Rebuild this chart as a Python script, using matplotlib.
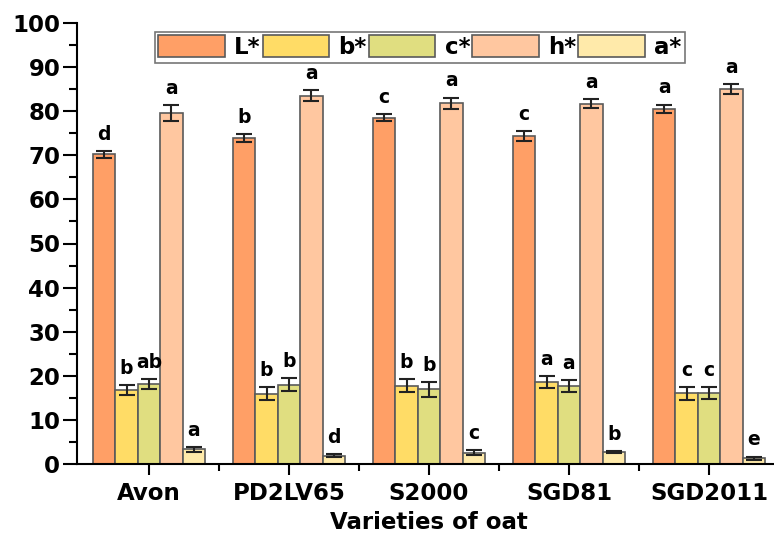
import matplotlib.pyplot as plt
import numpy as np
from matplotlib.ticker import MultipleLocator

plt.rcParams['font.family'] = ['DejaVu Sans']
plt.rcParams['font.weight'] = 'bold'

variedades = ["Avon", "PD2LV65", "S2000", "SGD81", "SGD2011"]
series = ["L*", "b*", "c*", "h*", "a*"]

L_val = [70.2, 73.9, 78.5, 74.3, 80.5]
L_err = [0.7, 0.9, 0.8, 1.1, 1.0]
b_val = [16.8, 15.9, 17.8, 18.6, 16.0]
b_err = [1.2, 1.5, 1.5, 1.3, 1.5]
c_val = [18.2, 18.0, 16.9, 17.7, 16.1]
c_err = [1.1, 1.5, 1.6, 1.3, 1.3]
h_val = [79.6, 83.5, 81.8, 81.7, 85.1]
h_err = [1.8, 1.3, 1.3, 1.0, 1.1]
a_val = [3.3, 1.9, 2.6, 2.7, 1.3]
a_err = [0.5, 0.3, 0.6, 0.2, 0.4]

L_let = ["d", "b", "c", "c", "a"]
b_let = ["b", "b", "b", "a", "c"]
c_let = ["ab", "b", "b", "a", "c"]
h_let = ["a", "a", "a", "a", "a"]
a_let = ["a", "d", "c", "b", "e"]

valores = [L_val, b_val, c_val, h_val, a_val]
erros = [L_err, b_err, c_err, h_err, a_err]
letras = [L_let, b_let, c_let, h_let, a_let]
cores = ["#FF9F66", "#FFDC66", "#E0DE80", "#FFC7A0", "#FFEAAA"]

fig = plt.figure(figsize=(7.74, 5.37), dpi=100)
ax = fig.add_axes([77 / 774, 73 / 537, 704 / 774, 441 / 537])

x = np.arange(len(variedades))
largura = 0.16
for i, nome in enumerate(series):
    pos = x + (i - 2) * largura
    ax.bar(pos, valores[i], largura, color=cores[i], edgecolor="#5a5a5a",
           linewidth=1.2, label=nome, zorder=2)
    ax.errorbar(pos, valores[i], yerr=erros[i], fmt="none", ecolor="#222222",
                elinewidth=1.5, capsize=6, capthick=1.5, zorder=3)
    for p, v, e, t in zip(pos, valores[i], erros[i], letras[i]):
        ax.annotate(t, (p, v + e), xytext=(0, 8), textcoords="offset points",
                    ha="center", va="baseline", fontsize=13.5, fontweight="bold")

ax.set_xlim(-0.514, 4.514)
ax.set_ylim(0, 100)
ax.yaxis.set_major_locator(MultipleLocator(10))
ax.yaxis.set_minor_locator(MultipleLocator(5))
ax.set_xticks(x)
ax.set_xticklabels(variedades)
ax.set_xticks(x[:-1] + 0.5, minor=True)

ax.tick_params(axis="y", which="major", length=10, width=1.5, labelsize=16.5, pad=2)
ax.tick_params(axis="y", which="minor", length=6, width=1.5)
ax.tick_params(axis="x", which="major", length=8, width=1.5, labelsize=16.5, pad=5)
ax.tick_params(axis="x", which="minor", length=5, width=1.5)
for lab in ax.get_xticklabels() + ax.get_yticklabels():
    lab.set_fontweight("bold")

for s in ["top", "right"]:
    ax.spines[s].set_visible(False)
for s in ["left", "bottom"]:
    ax.spines[s].set_linewidth(1.5)

ax.set_xlabel("Varieties of oat", fontsize=16.5, fontweight="bold", labelpad=4)

leg = ax.legend(ncol=5, loc="upper left", bbox_to_anchor=(78 / 704, 1 - 9 / 441),
                prop={"size": 16.5, "weight": "bold"}, frameon=True, fancybox=False,
                edgecolor="#555555", handlelength=2.9, handleheight=1.1,
                handletextpad=0.4, columnspacing=0.1, borderpad=0.15,
                borderaxespad=0)
leg.get_frame().set_linewidth(1.2)

plt.savefig("out.png", dpi=100)
